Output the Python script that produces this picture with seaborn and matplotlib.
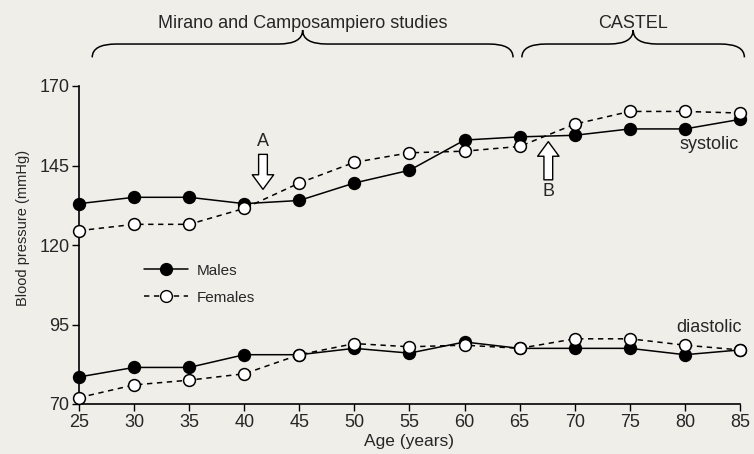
import matplotlib.pyplot as plt
import pandas as pd
import seaborn as sns
from matplotlib.lines import Line2D
from matplotlib.patches import PathPatch
from matplotlib.path import Path

ages = [25, 30, 35, 40, 45, 50, 55, 60, 65, 70, 75, 80, 85]
males_systolic = [133, 135, 135, 133, 134, 139.5, 143.5, 153, 154, 154.5, 156.5, 156.5, 159.5]
females_systolic = [124.5, 126.5, 126.5, 131.5, 139.5, 146, 149, 149.5, 151, 158, 162, 162, 161.5]
males_diastolic = [78.5, 81.5, 81.5, 85.5, 85.5, 87.5, 86, 89.5, 87.5, 87.5, 87.5, 85.5, 87]
females_diastolic = [72, 76, 77.5, 79.5, 85.5, 89, 88, 88.5, 87.5, 90.5, 90.5, 88.5, 87]

y_ticks = [70, 95, 120, 145, 170]
study_labels = ["Mirano and Camposampiero studies", "CASTEL"]
study_spans = [(26.2, 45.3, 64.4), (65.2, 75.3, 85.4)]

df = pd.DataFrame({
    "age": ages * 4,
    "bp": males_systolic + females_systolic + males_diastolic + females_diastolic,
    "sex": ["Males"] * 13 + ["Females"] * 13 + ["Males"] * 13 + ["Females"] * 13,
    "kind": ["systolic"] * 26 + ["diastolic"] * 26,
})

bg = "#efeee9"
sns.set_style("ticks")
plt.rcParams["font.family"] = ["Liberation Sans", "DejaVu Sans"]

fig = plt.figure(figsize=(7.54, 4.54), dpi=100, facecolor=bg)
ax = fig.add_axes([79 / 754, 1 - 404 / 454, 661 / 754, 318 / 454])
ax.set_facecolor(bg)

styles = {
    "Males": dict(marker="o", markerfacecolor="black", linestyle="-"),
    "Females": dict(marker="o", markerfacecolor="white", linestyle=(0, (3.5, 3))),
}
for kind in ["systolic", "diastolic"]:
    for sex in ["Males", "Females"]:
        sub = df[(df["sex"] == sex) & (df["kind"] == kind)]
        sns.lineplot(data=sub, x="age", y="bp", ax=ax, color="black", linewidth=1.1,
                     markersize=8.5, markeredgecolor="black", markeredgewidth=1.1,
                     clip_on=False, zorder=3 if sex == "Males" else 4, **styles[sex])

ax.set_xlim(25, 85)
ax.set_ylim(70, 170)
ax.set_xticks(ages)
ax.set_yticks(y_ticks)
ax.tick_params(axis="both", labelsize=13, length=5, width=1, color="black", pad=2)
for side in ["top", "right"]:
    ax.spines[side].set_visible(False)
for side in ["left", "bottom"]:
    ax.spines[side].set_linewidth(1.2)
    ax.spines[side].set_color("black")

ax.set_xlabel("Age (years)", fontsize=12.5)
ax.set_ylabel("Blood pressure (mmHg)", fontsize=10.5)
ax.xaxis.set_label_coords(0.5, -0.095)
ax.yaxis.set_label_coords(-0.074, 0.553)

handles = [
    Line2D([], [], color="black", lw=1.1, **styles["Males"], markersize=8.5),
    Line2D([], [], color="black", lw=1.1, **styles["Females"], markersize=8.5),
]
ax.legend(handles, ["Males", "Females"], loc="upper left", bbox_to_anchor=(0.077, 0.485),
          frameon=False, fontsize=11, handlelength=2.9, labelspacing=0.85,
          handletextpad=0.6)

ax.text(82.2, 151.5, "systolic", fontsize=13, ha="center", va="center")
ax.text(82.2, 94.2, "diastolic", fontsize=13, ha="center", va="center")

arrow_style = "simple,head_width=1.1,head_length=0.75,tail_width=0.45"
ax.annotate("", xy=(41.7, 137.5), xytext=(41.7, 148.5),
            arrowprops=dict(arrowstyle=arrow_style, fc="white", ec="black", lw=1,
                            mutation_scale=14, shrinkA=0, shrinkB=0))
ax.text(41.7, 152.5, "A", fontsize=13, ha="center", va="center")
ax.annotate("", xy=(67.6, 152.5), xytext=(67.6, 140.5),
            arrowprops=dict(arrowstyle=arrow_style, fc="white", ec="black", lw=1,
                            mutation_scale=14, shrinkA=0, shrinkB=0))
ax.text(67.6, 136.8, "B", fontsize=13, ha="center", va="center")

# curly braces above the axes
yb, ym, yt = 179.0, 183.2, 187.6
w = 2.2
for label, (x0, xm, x1) in zip(study_labels, study_spans):
    verts = [(x0, yb), (x0, ym), (x0 + w, ym), (xm - w, ym), (xm, ym), (xm, yt),
             (xm, ym), (xm + w, ym), (x1 - w, ym), (x1, ym), (x1, yb)]
    codes = [Path.MOVETO, Path.CURVE3, Path.CURVE3, Path.LINETO, Path.CURVE3, Path.CURVE3,
             Path.CURVE3, Path.CURVE3, Path.LINETO, Path.CURVE3, Path.CURVE3]
    ax.add_patch(PathPatch(Path(verts, codes), fc="none", ec="black", lw=1.1, clip_on=False))
    ax.text(xm, 189.8, label, fontsize=13, ha="center", va="center")

fig.savefig("out.png", dpi=100, facecolor=bg)
